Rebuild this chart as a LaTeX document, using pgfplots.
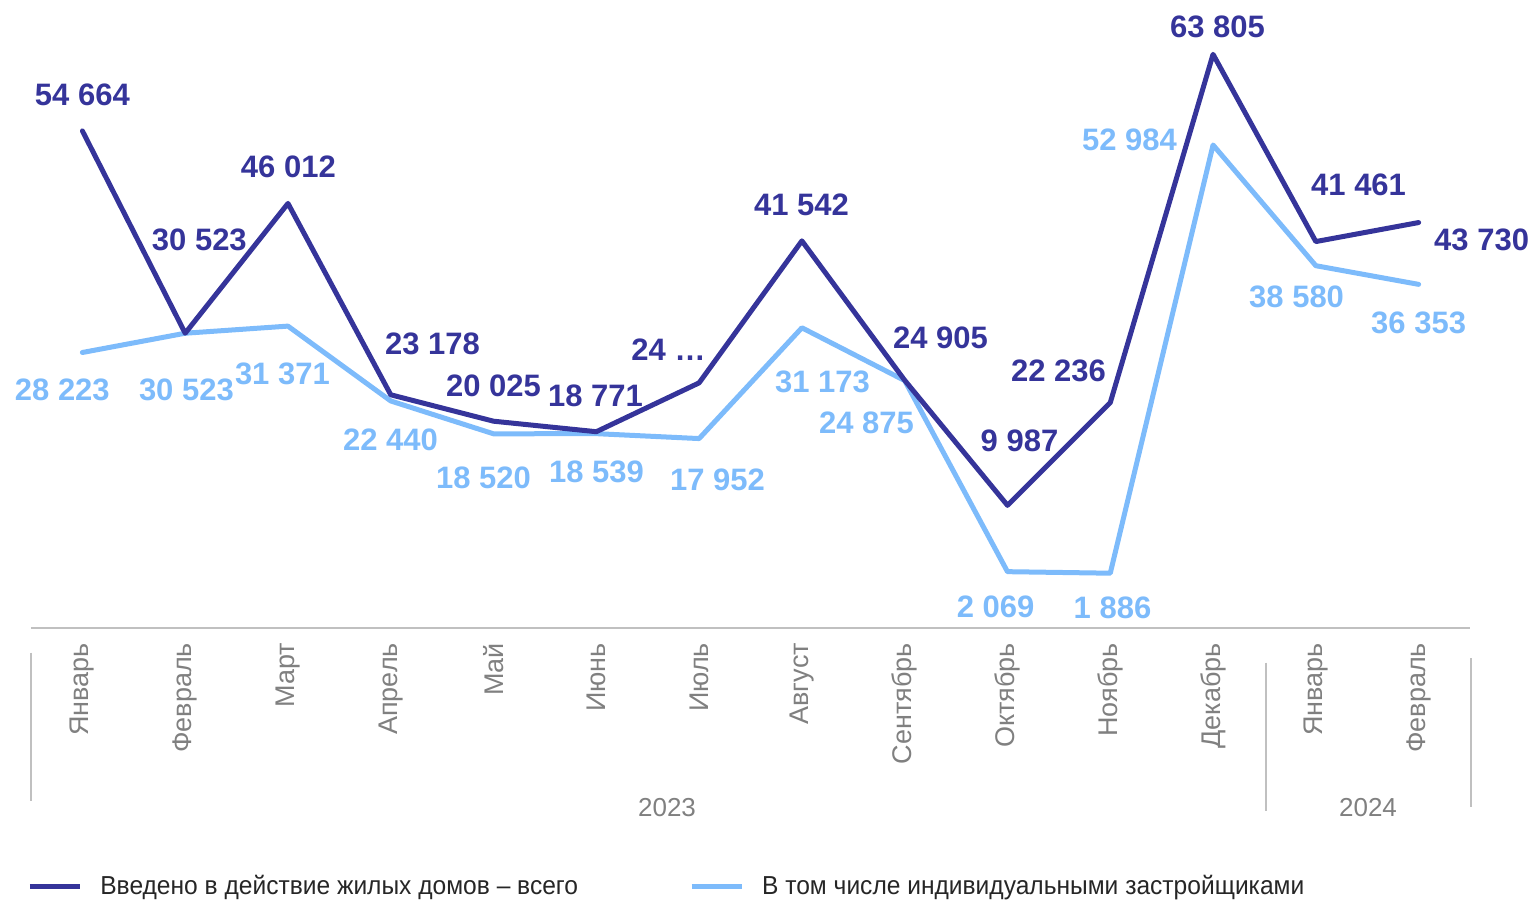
\documentclass[border=0pt]{standalone}
\usepackage{fontspec}
\setmainfont{Liberation Sans}
\newfontfamily\lgfamily[FakeStretch=0.945]{Liberation Sans}
\usepackage{pgfplots}
\pgfplotsset{compat=1.18}
\definecolor{dk}{HTML}{35349A}
\definecolor{lt}{HTML}{7DBBFB}
\definecolor{ax}{HTML}{C0C0C0}
\definecolor{tk}{HTML}{808080}
\definecolor{lg}{HTML}{262626}
\newcommand{\lblfont}{\fontsize{15.5pt}{18pt}\selectfont\bfseries}
\newcommand{\axfont}{\fontsize{13pt}{15pt}\selectfont}
\newcommand{\mfont}{\fontsize{13.5pt}{16pt}\selectfont}
\begin{document}
\begin{tikzpicture}
\path[use as bounding box] (0pt,0pt) rectangle (767pt,-450pt);
\begin{axis}[
  at={(15.5pt,-314pt)}, anchor=south west,
  scale only axis, width=719.5pt, height=312.8pt,
  xmin=-0.5, xmax=13.5, ymin=-4654, ymax=70000,
  axis x line*=bottom, axis y line=none,
  x axis line style={draw=ax, line width=1pt},
  xtick={0,...,13},
  xticklabels={Январь,Февраль,Март,Апрель,Май,Июнь,Июль,Август,Сентябрь,Октябрь,Ноябрь,Декабрь,Январь,Февраль},
  major tick length=0pt,
  xtick style={draw=none},
  xticklabel style={rotate=90, anchor=east, font=\mfont, text=tk},
  xticklabel shift=4pt,
  ytick=\empty,
  clip=false,
  legend columns=2,
  legend image code/.code={\draw[#1, line cap=butt] (0pt,0pt) -- (25pt,0pt); \path (32pt,0pt);},
  legend style={at={(axis description cs:-0.0028,-0.4124)}, anchor=west, draw=none, fill=none,
    inner sep=0pt, font=\lgfamily\axfont, text=lg,
    /tikz/every even column/.append style={column sep=53.5pt}},
]
\addlegendimage{dk, line width=2.5pt}
\addlegendentry{Введено в действие жилых домов – всего}
\addlegendimage{lt, line width=2.5pt}
\addlegendentry{В том числе индивидуальными застройщиками}

\addplot[lt, line width=2.5pt, line join=round, line cap=round, forget plot] coordinates {
(0,28223) (1,30523) (2,31371) (3,22440) (4,18520) (5,18539) (6,17952)
(7,31173) (8,24875) (9,2069) (10,1886) (11,52984) (12,38580) (13,36353)};
\addplot[dk, line width=2.5pt, line join=round, line cap=round, forget plot] coordinates {
(0,54664) (1,30523) (2,46012) (3,23178) (4,20025) (5,18771) (6,24600)
(7,41542) (8,24905) (9,9987) (10,22236) (11,63805) (12,41461) (13,43730)};

\begin{scope}[every node/.style={font=\lblfont, text=dk}]
\node at (axis cs:0,58950) {54 664};
\node at (axis cs:1.138,41647) {30 523};
\node at (axis cs:2.004,50358) {46 012};
\node at (axis cs:3.406,29236) {23 178};
\node at (axis cs:3.999,24224) {20 025};
\node at (axis cs:4.992,23031) {18 771};
\node at (axis cs:5.702,28520) {24 …};
\node at (axis cs:6.997,45823) {41 542};
\node at (axis cs:8.349,29952) {24 905};
\node at (axis cs:9.117,17661) {9 987};
\node at (axis cs:9.497,26014) {22 236};
\node at (axis cs:11.044,67064) {63 805};
\node at (axis cs:12.416,48210) {41 461};
\node at (axis cs:13.613,41647) {43 730};
\end{scope}
\begin{scope}[every node/.style={font=\lblfont, text=lt}]
\node at (axis cs:-0.195,23747) {28 223};
\node at (axis cs:1.012,23747) {30 523};
\node at (axis cs:1.946,25656) {31 371};
\node at (axis cs:2.997,17780) {22 440};
\node at (axis cs:3.902,13246) {18 520};
\node at (axis cs:5.001,13962) {18 539};
\node at (axis cs:6.179,13007) {17 952};
\node at (axis cs:7.201,24702) {31 173};
\node at (axis cs:7.629,19809) {24 875};
\node at (axis cs:8.884,-2148) {2 069};
\node at (axis cs:10.022,-2267) {1 886};
\node at (axis cs:10.188,53580) {52 984};
\node at (axis cs:11.813,34845) {38 580};
\node at (axis cs:13.0,31742) {36 353};
\end{scope}
\end{axis}
\draw[ax, line width=1pt] (15.5pt,-326.3pt) -- (15.5pt,-400.5pt);
\draw[ax, line width=1pt] (633pt,-331.3pt) -- (633pt,-405.5pt);
\draw[ax, line width=1pt] (735.5pt,-329pt) -- (735.5pt,-403.3pt);
\node[font=\axfont, text=tk] at (333.5pt,-404pt) {2023};
\node[font=\axfont, text=tk] at (684pt,-404pt) {2024};
\end{tikzpicture}
\end{document}
